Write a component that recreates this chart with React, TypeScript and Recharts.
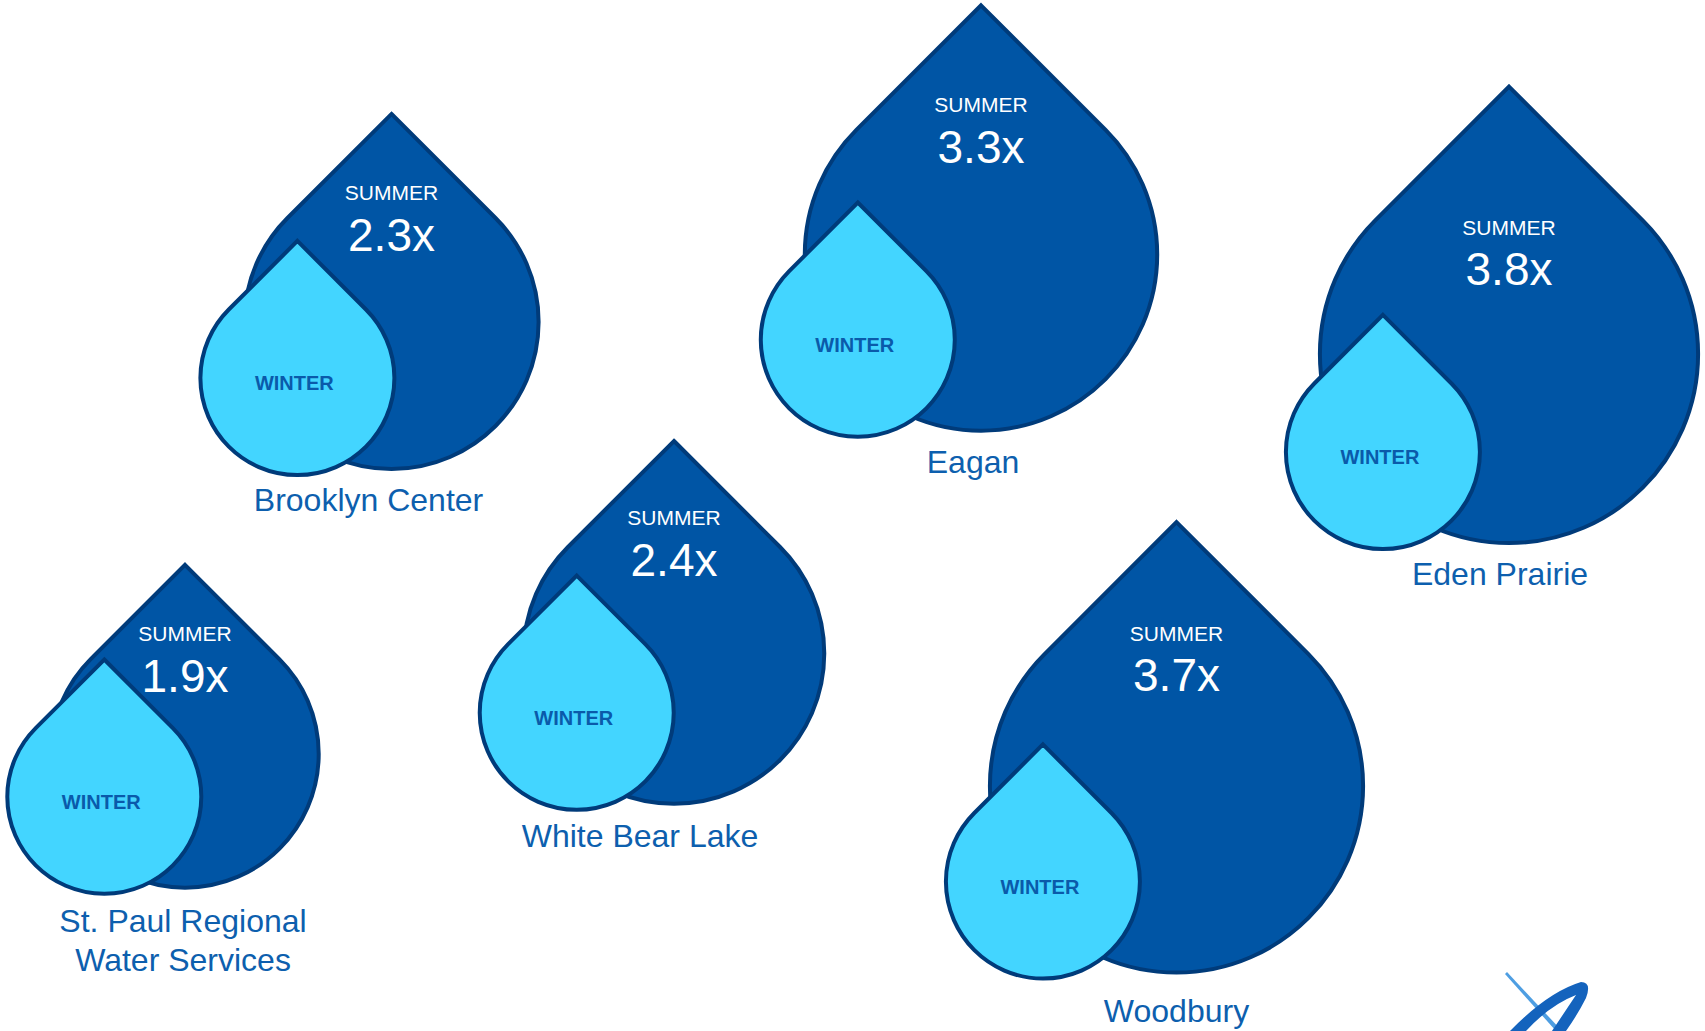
import React from "react";
import { ScatterChart, Scatter, XAxis, YAxis } from "recharts";

// data
const cities = [
  ["Brooklyn Center"],
  ["Eagan"],
  ["Eden Prairie"],
  ["St. Paul Regional", "Water Services"],
  ["White Bear Lake"],
  ["Woodbury"],
];
const summerRatio = [2.3, 3.3, 3.8, 1.9, 2.4, 3.7];
const winterRatio = [1, 1, 1, 1, 1, 1];

// layout (chart units = px on the 1705x1031 canvas)
const posX = [391.5, 981, 1509, 185, 674, 1176.5];
const posY = [322, 254.5, 354, 754, 653.5, 786];
const summerLift = [0.88, 0.85, 0.67, 0.9, 0.905, 0.82];
const nameShift = [-23, -8, -9, -2, -34, 0];
const winterGap = [44, 44, 34, 44, 44, 44];
const nameGap = [31, 31, 31, 33, 32, 38];

const W = 1705;
const H = 1031;
const WINTER_R = 97;
const FONT = "'Liberation Sans', Arial, sans-serif";

const rows = cities.map((name, i) => ({
  name,
  summer: summerRatio[i],
  winter: winterRatio[i],
  x: posX[i],
  y: posY[i],
  lift: summerLift[i],
  shift: nameShift[i],
  gap: winterGap[i],
  nameGap: nameGap[i],
}));

const dropPath = (cx: number, cy: number, r: number) => {
  const d = r / Math.SQRT2;
  return `M${cx},${cy - r * Math.SQRT2} L${cx + d},${cy - d} A${r},${r} 0 1 1 ${cx - d},${cy - d} Z`;
};

const Drop = (props: any) => {
  const { cx, cy, payload } = props;
  const R = WINTER_R * Math.sqrt(payload.summer / payload.winter);
  const r = WINTER_R;
  const wx = cx - R - payload.gap + r;
  const wy = cy + R + 6 - r;
  const sy = cy - payload.lift * R;
  const ny = cy + R + payload.nameGap;
  return (
    <g>
      <path d={dropPath(cx, cy, R)} fill="#0055A5" stroke="#003B7A" strokeWidth={4} />
      <text x={cx} y={sy} textAnchor="middle" dominantBaseline="central" fill="#fff" fontSize={21} fontFamily={FONT}>
        SUMMER
      </text>
      <text x={cx} y={sy + 42} textAnchor="middle" dominantBaseline="central" fill="#fff" fontSize={46} fontFamily={FONT}>
        {payload.summer.toFixed(1)}x
      </text>
      <path d={dropPath(wx, wy, r)} fill="#43D5FF" stroke="#003B7A" strokeWidth={4} />
      <text x={wx - 3} y={wy + 5} textAnchor="middle" dominantBaseline="central" fill="#0A5AAA" fontSize={20} fontWeight="bold" fontFamily={FONT}>
        WINTER
      </text>
      {payload.name.map((line: string, k: number) => (
        <text key={k} x={cx + payload.shift} y={ny + k * 39} textAnchor="middle" dominantBaseline="central" fill="#0D5FAE" fontSize={32} fontFamily={FONT}>
          {line}
        </text>
      ))}
    </g>
  );
};

export default function App() {
  return (
    <div style={{ position: "relative", width: W, height: H, background: "#fff", overflow: "hidden" }}>
      <style>{`body{margin:0}`}</style>
      <ScatterChart width={W} height={H} margin={{ top: 0, right: 0, bottom: 0, left: 0 }}>
        <XAxis type="number" dataKey="x" domain={[0, W]} hide />
        <YAxis type="number" dataKey="y" domain={[0, H]} reversed hide />
        <Scatter data={rows} shape={<Drop />} isAnimationActive={false} />
      </ScatterChart>
      {/* logo fragment, bottom right */}
      <svg width={W} height={H} style={{ position: "absolute", left: 0, top: 0, pointerEvents: "none" }}>
        <path d="M1507,972 L1562,1031 L1556,1031 L1505,974 Z" fill="#4E9EE2" />
        <path d="M1510,1031 Q1548,992 1581,982 Q1592,982 1586,998 Q1578,1014 1566,1031 L1552,1031 Q1566,1010 1576,995 Q1550,1005 1526,1031 Z" fill="#1463BD" />
      </svg>
    </div>
  );
}
